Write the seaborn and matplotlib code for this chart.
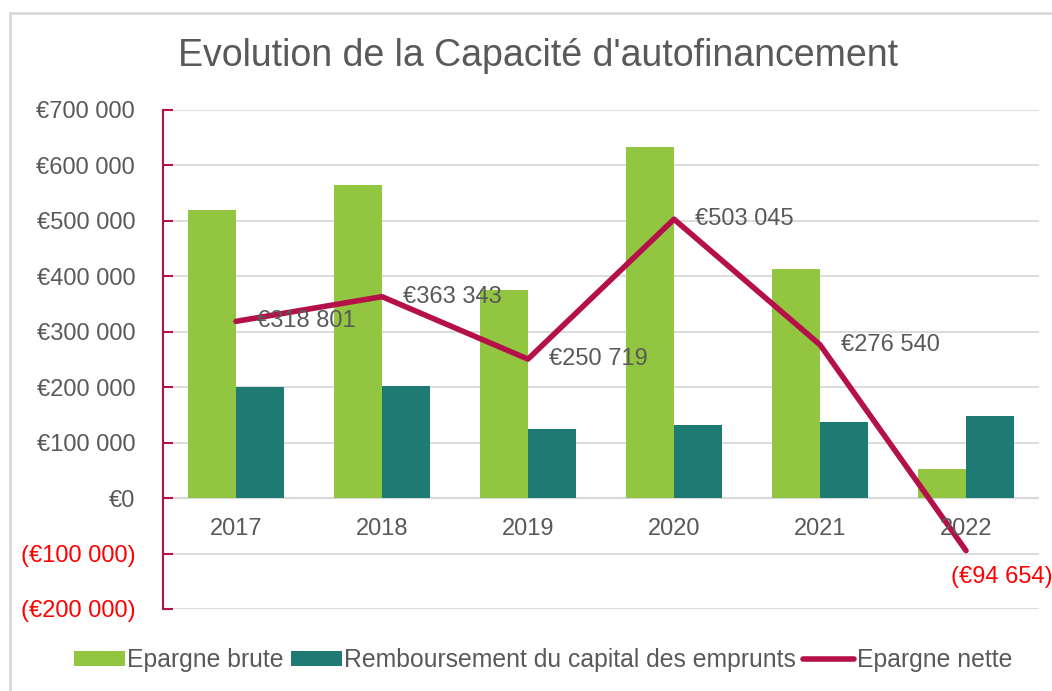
import numpy as np
import pandas as pd
import matplotlib
matplotlib.use("Agg")
import matplotlib.pyplot as plt
from matplotlib.lines import Line2D
from matplotlib.patches import Patch
import seaborn as sns

years = ["2017", "2018", "2019", "2020", "2021", "2022"]
epargne_brute = [519000, 565000, 376000, 634000, 414000, 53000]
remboursement = [200000, 202000, 125000, 131000, 137000, 148000]
epargne_nette = [318801, 363343, 250719, 503045, 276540, -94654]
net_labels = ["€318 801", "€363 343", "€250 719", "€503 045", "€276 540", "(€94 654)"]
yticks = [-200000, -100000, 0, 100000, 200000, 300000, 400000, 500000, 600000, 700000]
series_names = ["Epargne brute", "Remboursement du capital des emprunts", "Epargne nette"]
title = "Evolution de la Capacité d'autofinancement"

GREEN = "#92C640"
TEAL = "#1E7B73"
CRIMSON = "#B5104A"
GRAY = "#595959"
GRID = "#D9D9D9"
FS = 17

sns.set_style("white")
plt.rcParams["font.family"] = ["Liberation Sans", "DejaVu Sans"]

fig = plt.figure(figsize=(10.52, 6.91), dpi=100)
ax = fig.add_axes([163/1052, 1-609/691, (1039-163)/1052, (609-110)/691])

df = pd.DataFrame({
    "year": years * 2,
    "value": epargne_brute + remboursement,
    "serie": [series_names[0]] * len(years) + [series_names[1]] * len(years),
})
sns.barplot(data=df, x="year", y="value", hue="serie", palette=[GREEN, TEAL],
            saturation=1, width=0.66, linewidth=0, ax=ax, legend=False, errorbar=None)

xs = np.arange(len(years))
sns.lineplot(x=xs, y=epargne_nette, color=CRIMSON, linewidth=4, ax=ax, legend=False)

ax.set_xlim(-0.5, len(years) - 0.5)
ax.set_ylim(-200000, 700000)
ax.set_yticks(yticks)

def fmt(v):
    s = "€" + f"{abs(v):,}".replace(",", " ")
    return "(" + s + ")" if v < 0 else s

ax.set_yticklabels([fmt(v) for v in yticks], fontsize=FS)
for lbl, v in zip(ax.get_yticklabels(), yticks):
    lbl.set_color("#FF0000" if v < 0 else GRAY)
ax.tick_params(axis="y", left=True, direction="in", length=7, width=1.5, color=CRIMSON, pad=20)
ax.tick_params(axis="x", length=0, labelbottom=False)
ax.set_xlabel("")
ax.set_ylabel("")
ax.grid(axis="y", color=GRID, linewidth=1.3)
ax.set_axisbelow(True)
for s in ["top", "right", "bottom"]:
    ax.spines[s].set_visible(False)
ax.spines["left"].set_color(CRIMSON)
ax.spines["left"].set_linewidth(1.5)
ax.axhline(0, color=GRID, linewidth=1.6, zorder=0.5)

for i, y in enumerate(years):
    ax.text(i, -56000, y, ha="center", va="center", fontsize=FS, color=GRAY)

for i, (v, t) in enumerate(zip(epargne_nette, net_labels)):
    if v < 0:
        ax.annotate(t, (i, v), xytext=(-11, -11), textcoords="offset points",
                    ha="left", va="top", fontsize=FS, color="#FF0000")
    else:
        ax.annotate(t, (i, v), xytext=(15, 0), textcoords="offset points",
                    ha="left", va="center", fontsize=FS, color=GRAY)

fig.text(538/1052, 1-56/691, title, ha="center", va="center", fontsize=27,
         color=GRAY)

handles = [Patch(facecolor=GREEN, edgecolor="none"),
           Patch(facecolor=TEAL, edgecolor="none"),
           Line2D([0], [0], color=CRIMSON, linewidth=4, solid_capstyle="round")]
fig.legend(handles, series_names, loc="center", bbox_to_anchor=(543/1052, 1-660/691),
           ncol=3, frameon=False, fontsize=17.8, labelcolor=GRAY,
           handlelength=2.05, handleheight=0.55, handletextpad=0.1, columnspacing=0.3)

fig.add_artist(Line2D([10/1052, 10/1052], [0, 1-13/691], transform=fig.transFigure, color=GRID, linewidth=2))
fig.add_artist(Line2D([10/1052, 1], [1-13/691, 1-13/691], transform=fig.transFigure, color=GRID, linewidth=2))

fig.savefig("out.png", dpi=100)
